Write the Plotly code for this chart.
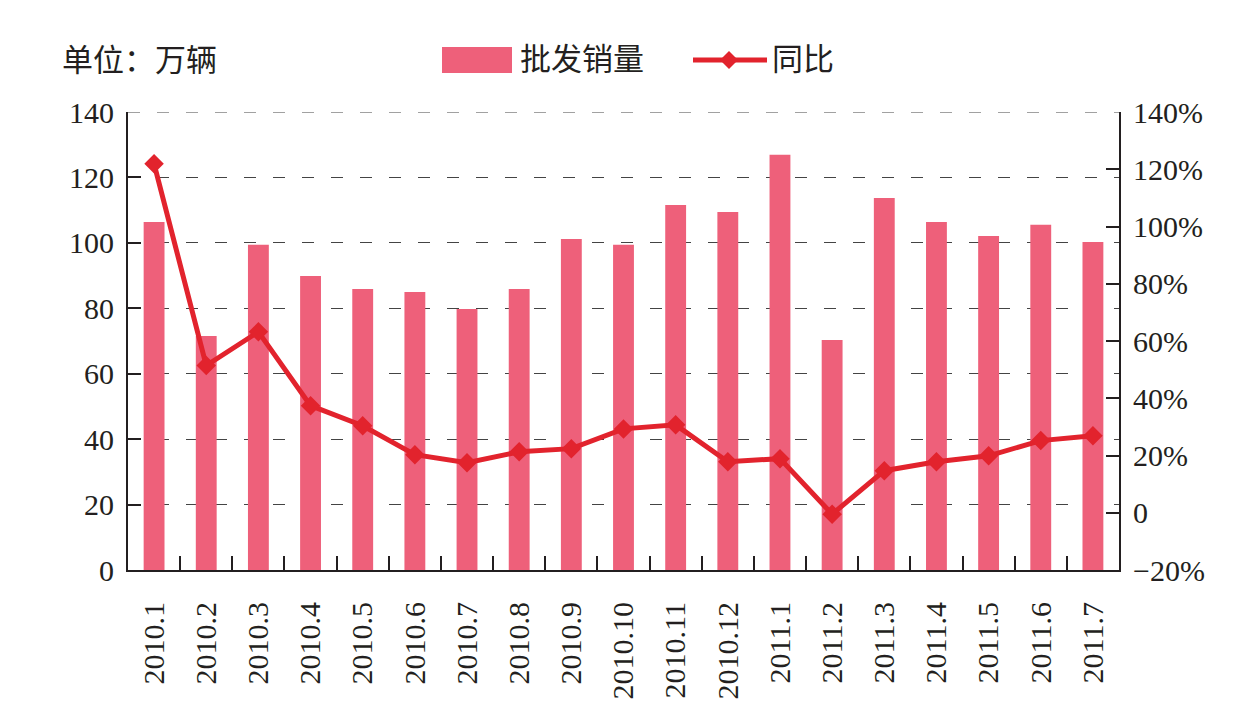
import plotly.graph_objects as go

categories = ["2010.1", "2010.2", "2010.3", "2010.4", "2010.5", "2010.6", "2010.7",
              "2010.8", "2010.9", "2010.10", "2010.11", "2010.12", "2011.1", "2011.2",
              "2011.3", "2011.4", "2011.5", "2011.6", "2011.7"]
sales = [106.4, 71.5, 99.4, 89.9, 85.9, 85.0, 79.8, 85.9, 101.2, 99.4,
         111.6, 109.4, 126.9, 70.3, 113.7, 106.4, 102.1, 105.5, 100.3]
yoy = [121.9, 51.4, 63.2, 37.4, 30.4, 20.3, 17.5, 21.3, 22.4, 29.3,
       30.7, 17.8, 18.9, -0.5, 14.7, 17.8, 19.9, 25.2, 26.9]

left_ticks = [0, 20, 40, 60, 80, 100, 120, 140]
right_ticks = [-20, 0, 20, 40, 60, 80, 100, 120, 140]
right_ticktext = ["\u221220%", "0", "20%", "40%", "60%", "80%", "100%", "120%", "140%"]

BAR_COLOR = "#EE607A"
LINE_COLOR = "#E2232D"
GRID_COLOR = "#444444"
GRID_DASH = "12px,17px"
FONT = "Liberation Serif, Noto Sans CJK SC"
CJK_SIZE = 31

fig = go.Figure()
fig.add_trace(go.Bar(x=categories, y=sales, name="批发销量", marker_color=BAR_COLOR,
                     marker_line_width=0, width=0.4, showlegend=False))
fig.add_trace(go.Scatter(x=categories, y=yoy, name="同比", yaxis="y2", mode="lines+markers",
                         line=dict(color=LINE_COLOR, width=5),
                         marker=dict(symbol="diamond", size=15, color=LINE_COLOR),
                         showlegend=False))

fig.update_layout(
    width=1255, height=722,
    margin=dict(l=128, r=136, t=112, b=152),
    paper_bgcolor="white", plot_bgcolor="white",
    font=dict(family=FONT, size=30, color="#231F20"),
    xaxis=dict(type="category", range=[-0.5, len(categories) - 0.5],
               showline=True, linecolor="#231F20", linewidth=2,
               ticks="inside", ticklen=14, tickwidth=2, tickcolor="#231F20",
               tickson="boundaries", tickangle=-90, ticklabelstandoff=18,
               showgrid=False, zeroline=False),
    yaxis=dict(range=[0, 140], tickvals=left_ticks, showline=True, linecolor="#231F20",
               linewidth=2, ticks="inside", ticklen=13, tickwidth=2, tickcolor="#231F20",
               showgrid=True, gridcolor=GRID_COLOR, gridwidth=1, griddash=GRID_DASH,
               zeroline=False, ticklabelstandoff=6),
    yaxis2=dict(range=[-20, 140], overlaying="y", side="right", tickvals=right_ticks,
                ticktext=right_ticktext, showline=True, linecolor="#231F20", linewidth=2,
                ticks="inside", ticklen=13, tickwidth=2, tickcolor="#231F20",
                showgrid=False, zeroline=False, ticklabelstandoff=6),
    bargap=0.6,
)

# Top dashed gridline at 140
fig.add_shape(type="line", xref="paper", yref="y", x0=0, x1=1, y0=140, y1=140,
              line=dict(color=GRID_COLOR, width=1, dash=GRID_DASH), layer="below")

# Title / unit label
fig.add_annotation(text="单位：万辆", xref="paper", yref="paper", x=(60 - 128) / 991, y=1.0,
                   yshift=52, xanchor="left", yanchor="middle", showarrow=False,
                   font=dict(size=CJK_SIZE, family=FONT))

# Custom legend
fig.add_shape(type="rect", xref="paper", yref="paper",
              x0=(442 - 128) / 991, x1=(512 - 128) / 991,
              y0=(570 - 73) / 458, y1=(570 - 47) / 458,
              fillcolor=BAR_COLOR, line_width=0)
fig.add_annotation(text="批发销量", xref="paper", yref="paper", x=(518 - 128) / 991,
                   y=(570 - 60) / 458, xanchor="left", yanchor="middle", showarrow=False,
                   font=dict(size=CJK_SIZE, family=FONT))
fig.add_shape(type="line", xref="paper", yref="paper",
              x0=(693 - 128) / 991, x1=(767 - 128) / 991,
              y0=(570 - 60) / 458, y1=(570 - 60) / 458,
              line=dict(color=LINE_COLOR, width=5))
fig.add_shape(type="path", xref="paper", yref="paper",
              path="M {a},{b} L {c},{d} L {a},{e} L {f},{d} Z".format(
                  a=(729 - 128) / 991, b=(570 - 51) / 458, c=(738 - 128) / 991,
                  d=(570 - 60) / 458, e=(570 - 69) / 458, f=(720 - 128) / 991),
              fillcolor=LINE_COLOR, line_width=0)
fig.add_annotation(text="同比", xref="paper", yref="paper", x=(770 - 128) / 991,
                   y=(570 - 60) / 458, xanchor="left", yanchor="middle", showarrow=False,
                   font=dict(size=CJK_SIZE, family=FONT))

fig.write_html("out.html")
